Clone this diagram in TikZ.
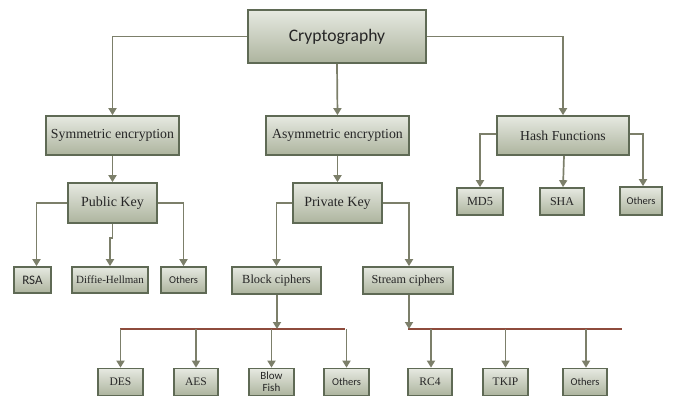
\documentclass[tikz,border=0pt]{standalone}
\usepackage{fontspec}
\setmainfont{Liberation Serif}
\newfontfamily\carl{Carlito}
\usetikzlibrary{arrows.meta}
\definecolor{boxtop}{HTML}{E6E9E1}
\definecolor{boxbot}{HTML}{ADB49E}
\definecolor{boxedge}{HTML}{5F6A55}
\definecolor{linecol}{HTML}{7C7F6A}
\definecolor{buscol}{HTML}{8E4B3C}
\definecolor{txt}{HTML}{262626}
\tikzset{
  cbox/.style={draw=boxedge, line width=1.7pt, top color=boxtop, bottom color=boxbot,
     text=txt, inner sep=0pt, align=center},
  conn/.style={draw=linecol, line width=1.7pt, -{Triangle[width=8pt,length=7pt]}},
  bus/.style={draw=buscol, line width=1.6pt},
}
\begin{document}
\begin{tikzpicture}[x=1pt,y=-1pt]
\useasboundingbox (0,0) rectangle (673,396);
% top
\node[cbox, minimum width=178pt, minimum height=53pt, font=\carl\fontsize{17.6}{19}\selectfont] (crypto) at (337,36.5) {Cryptography};
% level 2
\node[cbox, minimum width=133pt, minimum height=39pt, font=\fontsize{13.8}{15}\selectfont] (sym) at (112.5,135.5) {Symmetric encryption};
\node[cbox, minimum width=143pt, minimum height=39pt, font=\fontsize{13.8}{15}\selectfont] (asym) at (337.5,135.5) {Asymmetric encryption};
\node[cbox, minimum width=132pt, minimum height=39pt, font=\fontsize{13.7}{15}\selectfont] (hash) at (563,135.5) {Hash Functions};
% level 3
\node[cbox, minimum width=89pt, minimum height=40pt, font=\fontsize{14}{15}\selectfont] (pub) at (112.5,203) {Public Key};
\node[cbox, minimum width=89pt, minimum height=40pt, font=\fontsize{14}{15}\selectfont] (priv) at (337.5,203) {Private Key};
\node[cbox, minimum width=46pt, minimum height=27pt, font=\fontsize{12.3}{13}\selectfont] (md5) at (480,201.5) {MD5};
\node[cbox, minimum width=44pt, minimum height=27pt, font=\fontsize{12}{13}\selectfont] (sha) at (562,201.5) {SHA};
\node[cbox, minimum width=42pt, minimum height=28pt, font=\carl\fontsize{10.5}{12}\selectfont] (hoth) at (641,201) {Others};
% level 4
\node[cbox, minimum width=37pt, minimum height=26pt, font=\carl\fontsize{13}{13}\selectfont] (rsa) at (32.5,280) {RSA};
\node[cbox, minimum width=76pt, minimum height=26pt, font=\fontsize{11}{13}\selectfont] (dh) at (110,280) {Diffie-Hellman};
\node[cbox, minimum width=45pt, minimum height=26pt, font=\carl\fontsize{10.5}{12}\selectfont] (poth) at (183.5,280) {Others};
\node[cbox, minimum width=89pt, minimum height=27pt, font=\fontsize{12.4}{13}\selectfont] (block) at (276.5,280.5) {Block ciphers};
\node[cbox, minimum width=90pt, minimum height=27pt, font=\fontsize{12.2}{13}\selectfont] (stream) at (408,280.5) {Stream ciphers};
% level 5
\node[cbox, minimum width=45pt, minimum height=27pt, font=\fontsize{11.5}{13}\selectfont] (des) at (120.5,382) {DES};
\node[cbox, minimum width=44pt, minimum height=27pt, font=\fontsize{11.5}{13}\selectfont] (aes) at (196,382) {AES};
\node[cbox, minimum width=45pt, minimum height=27pt, font=\carl\fontsize{11}{12}\selectfont] (bf) at (271.5,382) {Blow\\Fish};
\node[cbox, minimum width=45pt, minimum height=27pt, font=\carl\fontsize{10.5}{12}\selectfont] (both) at (346.5,382) {Others};
\node[cbox, minimum width=44pt, minimum height=27pt, font=\fontsize{11.5}{13}\selectfont] (rc4) at (430,382) {RC4};
\node[cbox, minimum width=45pt, minimum height=27pt, font=\fontsize{11.5}{13}\selectfont] (tkip) at (505.5,382) {TKIP};
\node[cbox, minimum width=44pt, minimum height=27pt, font=\carl\fontsize{10.5}{12}\selectfont] (soth) at (585,382) {Others};
% buses
\coordinate (b1l) at (120,329);
\coordinate (b1r) at (345,329);
\coordinate (b1m) at (277,329);
\coordinate (b2l) at (408,329);
\coordinate (b2r) at (622,329);
\coordinate (b2m) at (409,329);
% connectors
\draw[conn] (crypto.west) -| (sym.north);
\draw[conn] (crypto.south) -- (asym.north);
\draw[conn] (crypto.east) -| (hash.north);
\draw[conn] (sym.south) -- (pub.north);
\draw[conn] (asym.south) -- (priv.north);
\draw[conn] (pub.west) -| ([xshift=4pt]rsa.north);
\draw[conn] (pub.south) -- ++(0,14) -| (dh.north);
\draw[conn] (pub.east) -| (poth.north);
\draw[conn] (priv.west) -| (block.north);
\draw[conn] (priv.east) -| ([xshift=1pt]stream.north);
\draw[conn] ([yshift=1.5pt]hash.west) -| (md5.north);
\draw[conn] ([xshift=1pt]hash.south) -- ([xshift=1pt]sha.north);
\draw[conn] ([yshift=1.5pt]hash.east) -| ([xshift=2pt]hoth.north);
\draw[bus] (b1l) -- (b1r);
\draw[bus] (b2l) -- (b2r);
\draw[conn] ([xshift=0.5pt]block.south) -- (b1m);
\draw[conn] ([xshift=1pt]stream.south) -- (b2m);
\draw[conn] (des.north |- b1l) -- (des.north);
\draw[conn] (aes.north |- b1l) -- (aes.north);
\draw[conn] (bf.north |- b1l) -- (bf.north);
\draw[conn] (both.north |- b1l) -- (both.north);
\draw[conn] ([xshift=1pt]rc4.north |- b2l) -- ([xshift=1pt]rc4.north);
\draw[conn] (tkip.north |- b2l) -- (tkip.north);
\draw[conn] ([xshift=1pt]soth.north |- b2l) -- ([xshift=1pt]soth.north);
\end{tikzpicture}
\end{document}
